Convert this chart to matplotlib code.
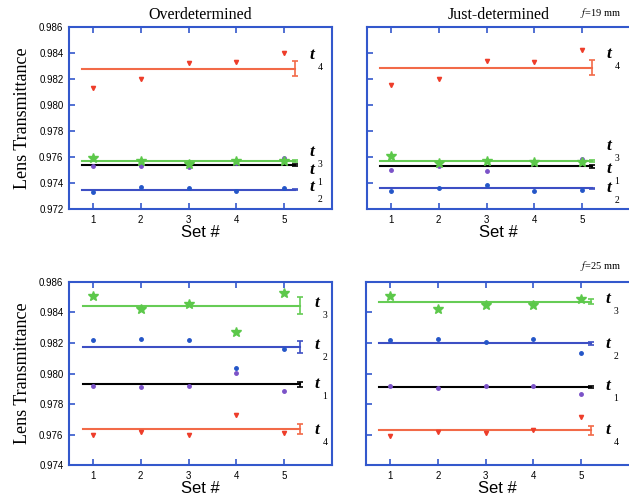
import matplotlib
matplotlib.use('Agg')
import matplotlib.pyplot as plt
import numpy as np

plt.rcParams['mathtext.fontset'] = 'stix'

sets = [1, 2, 3, 4, 5]

# f = 19 mm, overdetermined
od19_t1 = [0.97533, 0.97533, 0.97521, 0.97556, 0.97595]
od19_t2 = [0.97333, 0.97369, 0.97359, 0.97341, 0.97359]
od19_t3 = [0.97592, 0.97567, 0.97549, 0.97567, 0.97567]
od19_t4 = [0.98131, 0.98203, 0.98323, 0.98331, 0.98403]
od19_mean = [0.97541, 0.97351, 0.97569, 0.98279]
od19_err = [0.00006, 0.00004, 0.00005, 0.00059]

# f = 19 mm, just-determined
jd19_t1 = [0.97503, 0.97533, 0.97490, 0.97560, 0.97585]
jd19_t2 = [0.97341, 0.97362, 0.97385, 0.97341, 0.97351]
jd19_t3 = [0.97605, 0.97554, 0.97567, 0.97562, 0.97559]
jd19_t4 = [0.98151, 0.98203, 0.98341, 0.98331, 0.98421]
jd19_mean = [0.97528, 0.97359, 0.97572, 0.98287]
jd19_err = [0.00010, 0.00004, 0.00006, 0.00056]

# f = 25 mm, overdetermined
od25_t1 = [0.97919, 0.97910, 0.97919, 0.98002, 0.97884]
od25_t2 = [0.98217, 0.98226, 0.98217, 0.98039, 0.98158]
od25_t3 = [0.98510, 0.98423, 0.98458, 0.98269, 0.98528]
od25_t4 = [0.97597, 0.97615, 0.97597, 0.97726, 0.97608]
od25_mean = [0.97928, 0.98173, 0.98445, 0.97637]
od25_err = [0.00015, 0.00042, 0.00053, 0.00030]

# f = 25 mm, just-determined
jd25_t1 = [0.97919, 0.97904, 0.97919, 0.97919, 0.97866]
jd25_t2 = [0.98217, 0.98226, 0.98208, 0.98226, 0.98131]
jd25_t3 = [0.98510, 0.98423, 0.98447, 0.98447, 0.98491]
jd25_t4 = [0.97591, 0.97619, 0.97608, 0.97630, 0.97718]
jd25_mean = [0.97912, 0.98199, 0.98471, 0.97628]
jd25_err = [0.00008, 0.00010, 0.00015, 0.00030]

names = ['1', '2', '3', '4']
pt_colors = ['#7b52c8', '#2456c8', '#5cc84a', '#ee3d2a']
line_colors = ['black', '#3d4fc4', '#66cc55', '#f26a48']
markers = ['o', 'o', '*', 'v']
msizes = [2.5, 2.5, 7, 3]

spine_col = '#3358cc'

fig = plt.figure(figsize=(6.29, 4.98), dpi=100)

# position / label layout per panel: (rect, line start, errbar x, label x, label y's)
panels = [
    ([0.1097, 0.580, 0.418, 0.366], [od19_t1, od19_t2, od19_t3, od19_t4], od19_mean, od19_err,
     (0.972, 0.986), 0.78, 5.23, 5.52, [0.97503, 0.97369, 0.97636, 0.98387], True),
    ([0.5835, 0.580, 0.418, 0.366], [jd19_t1, jd19_t2, jd19_t3, jd19_t4], jd19_mean, jd19_err,
     (0.972, 0.986), 0.77, 5.20, 5.50, [0.97508, 0.97362, 0.97682, 0.98392], False),
    ([0.1097, 0.066, 0.418, 0.368], [od25_t1, od25_t2, od25_t3, od25_t4], od25_mean, od25_err,
     (0.974, 0.986), 0.79, 5.33, 5.63, [0.97932, 0.98188, 0.98462, 0.97630], True),
    ([0.5820, 0.066, 0.418, 0.368], [jd25_t1, jd25_t2, jd25_t3, jd25_t4], jd25_mean, jd25_err,
     (0.974, 0.986), 0.77, 5.20, 5.50, [0.97915, 0.98193, 0.98490, 0.97630], False),
]

axes = []
for rect, series, means, errs, ylim, x0, xe, xl, ly, left in panels:
    ax = fig.add_axes(rect)
    axes.append(ax)
    for i in range(4):
        ax.plot(sets, series[i], linestyle='none', marker=markers[i], ms=msizes[i],
                color=pt_colors[i], mec=pt_colors[i], zorder=3)
        ax.plot([x0, xe], [means[i], means[i]], color=line_colors[i], lw=1.5, zorder=2)
        ax.errorbar([xe], [means[i]], yerr=[errs[i]], color=line_colors[i], capsize=2.5,
                    elinewidth=1.2, capthick=1.2, fmt='none', zorder=2)
        ax.text(xl, ly[i], 't', family='Liberation Serif', style='italic', weight='bold',
                fontsize=12.5, ha='left', va='center', color='black')
        ax.annotate(names[i], (xl, ly[i]), xytext=(6, -9), textcoords='offset points',
                    family='Liberation Serif', fontsize=7, ha='left', va='center')
    ax.set_xlim(0.5, 6.0)
    ax.set_ylim(*ylim)
    ax.set_xticks(sets)
    ax.set_yticks(np.arange(ylim[0], ylim[1] + 1e-6, 0.002))
    ax.tick_params(direction='in', top=True, right=False, length=4, width=1.2,
                   color=spine_col, labelsize=7, pad=4)
    for s in ax.spines.values():
        s.set_color(spine_col)
        s.set_linewidth(1.5)
    ax.spines['right'].set_visible(left)
    for lab in ax.get_xticklabels() + ax.get_yticklabels():
        lab.set_family('Liberation Sans')
    if left:
        ax.set_yticklabels(['%.3f' % v for v in ax.get_yticks()])
        ax.set_ylabel('Lens Transmittance', family='Liberation Serif', fontsize=13, labelpad=6)
    else:
        ax.set_yticklabels([])
    ax.set_xlabel('Set #', family='Liberation Sans', fontsize=12, labelpad=0)

axes[0].set_title('Overdetermined', family='Liberation Serif', fontsize=11.5, pad=6)
axes[1].set_title('Just-determined', family='Liberation Serif', fontsize=11.5, pad=6)
fig.text(0.955, 0.968, r'$f$=19 mm', family='Liberation Serif', fontsize=7.5, ha='center')
fig.text(0.955, 0.460, r'$f$=25 mm', family='Liberation Serif', fontsize=7.5, ha='center')

plt.savefig('out.png', dpi=100)
